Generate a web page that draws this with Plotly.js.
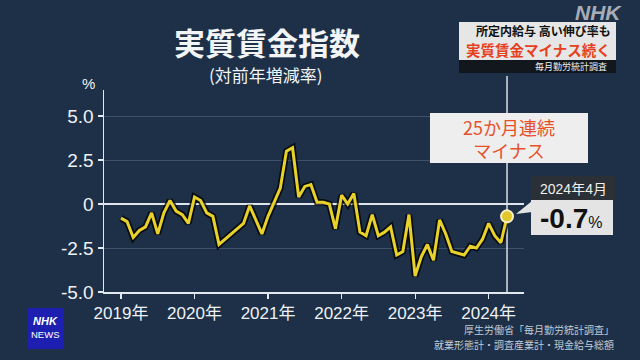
<!DOCTYPE html>
<html><head><meta charset="utf-8">
<script src="https://cdn.plot.ly/plotly-3.0.1.min.js"></script>
<style>html,body{margin:0;padding:0;background:#1d3048;}#chart{width:640px;height:360px;}</style>
</head><body><div id="chart"></div>
<script>
// Real wage index, year-on-year change (%), monthly Jan 2019 - Apr 2024
const v2019 = [-0.8, -1.0, -1.9, -1.5, -1.3, -0.5, -1.7, -0.5, 0.2, -0.4, -0.6, -1.1];
const v2020 = [0.4, 0.2, -0.5, -0.7, -2.3, -2.0, -1.7, -1.4, -1.1, -0.1, -0.9, -1.7];
const v2021 = [-0.7, 0.1, 0.9, 3.0, 3.2, 0.4, 1.0, 1.1, 0.1, 0.1, 0.0, -1.4];
const v2022 = [0.5, 0.0, 0.6, -1.6, -1.8, -0.6, -1.8, -1.6, -1.3, -2.9, -2.7, -0.6];
const v2023 = [-4.1, -3.0, -2.3, -3.2, -0.9, -1.7, -2.7, -2.8, -2.9, -2.4, -2.5, -2.0];
const v2024 = [-1.1, -1.8, -2.2, -0.7];
const yearTickLabels = ['2019年', '2020年', '2021年', '2022年', '2023年', '2024年'];
const yTickVals = [5, 2.5, 0, -2.5, -5];
const yTickText = ['5.0', '2.5', '0', '-2.5', '-5.0'];
const lastLabel = '2024年4月';
const lastValueText = '-0.7';

const values = [].concat(v2019, v2020, v2021, v2022, v2023, v2024);
const xIdx = values.map((_, i) => i); // months since Jan 2019
const tickVals = yearTickLabels.map((_, i) => i * 12);
const lastI = values.length - 1;

// plot geometry (pixels)
const W = 640, H = 360, L = 104, R = 524, T = 90, B = 292;
const xRange = [-2.77, 65.77];
const yRange = [-5, 6.48];
const px = x => (x - L) / (R - L);
const py = y => (B - y) / (B - T);
const CJK = '"Noto Sans CJK JP", sans-serif';
const LAT = '"Liberation Sans", "Noto Sans CJK JP", sans-serif';

const traces = [
  {x: xIdx, y: values, type: 'scatter', mode: 'lines',
   line: {color: 'rgba(0,0,0,0.75)', width: 6.5}, hoverinfo: 'skip'},
  {x: xIdx, y: values, type: 'scatter', mode: 'lines',
   line: {color: '#e8d12a', width: 3}, hoverinfo: 'skip'},
  {x: [xIdx[lastI]], y: [values[lastI]], type: 'scatter', mode: 'markers',
   marker: {color: '#e2c62a', size: 12, line: {color: '#f6efc4', width: 2}}, hoverinfo: 'skip'}
];

const vlineX = (lastI - xRange[0]) / (xRange[1] - xRange[0]);

const shapes = [
  {type: 'line', xref: 'paper', yref: 'paper', x0: vlineX, x1: vlineX, y0: 0, y1: py(76),
   line: {color: '#d9dfe6', width: 1.5}, layer: 'below'},
  // header box
  {type: 'rect', xref: 'paper', yref: 'paper', x0: px(459), x1: px(616), y0: py(60), y1: py(22),
   fillcolor: '#e6e6e6', line: {width: 0}, layer: 'above'},
  {type: 'rect', xref: 'paper', yref: 'paper', x0: px(459), x1: px(616), y0: py(73), y1: py(60),
   fillcolor: '#12171d', line: {width: 0}, layer: 'above'},
  // 25 months box
  {type: 'rect', xref: 'paper', yref: 'paper', x0: px(430), x1: px(588), y0: py(163), y1: py(113),
   fillcolor: '#eeeeee', line: {width: 0}, layer: 'above'},
  // callout
  {type: 'rect', xref: 'paper', yref: 'paper', x0: px(531), x1: px(615), y0: py(200), y1: py(176),
   fillcolor: '#2b3036', line: {width: 0}, layer: 'above'},
  {type: 'rect', xref: 'paper', yref: 'paper', x0: px(531), x1: px(613), y0: py(235), y1: py(200),
   fillcolor: '#e4e4e4', line: {width: 0}, layer: 'above'},
  {type: 'path', xref: 'paper', yref: 'paper',
   path: `M ${px(532)} ${py(201)} L ${px(516)} ${py(214)} L ${px(532)} ${py(212)} Z`,
   fillcolor: '#e4e4e4', line: {width: 0}, layer: 'above'},
  // NHK NEWS logo
  {type: 'rect', xref: 'paper', yref: 'paper', x0: px(28), x1: px(64), y0: py(349), y1: py(308),
   fillcolor: '#1c1fb0', line: {width: 0}, layer: 'above'}
];

const ann = (x, y, text, size, color, extra) => Object.assign({
  xref: 'paper', yref: 'paper', x: px(x), y: py(y), text: text, showarrow: false,
  xanchor: 'center', yanchor: 'middle', borderpad: 0,
  font: {family: CJK, size: size, color: color}
}, extra || {});

const annotations = [
  ann(267, 41, '<b>実質賃金指数</b>', 31, '#f2f4f6'),
  ann(266, 74.5, '(対前年増減率)', 17, '#f2f4f6'),
  ann(88, 83, '%', 15, '#eef2f6', {font: {family: LAT, size: 15, color: '#eef2f6'}}),
  ann(612, 31, '<b>所定内給与 高い伸び率も</b>', 12, '#111111', {xanchor: 'right'}),
  ann(612, 49.5, '<b>実質賃金マイナス続く</b>', 14.5, '#e6401f', {xanchor: 'right'}),
  ann(608, 67, '毎月勤労統計調査', 9, '#f0f0f0', {xanchor: 'right'}),
  ann(598, 12, '<b><i>NHK</i></b>', 21, 'rgba(205,208,214,0.8)', {font: {family: LAT, size: 21, color: 'rgba(205,208,214,0.8)'}}),
  ann(509, 138.5, '25か月連続<br>マイナス', 18, '#e8502a'),
  ann(573, 188.5, lastLabel, 14, '#f0f0f0', {font: {family: LAT, size: 14, color: '#f0f0f0'}}),
  ann(571, 218.5, '<b>' + lastValueText + '</b><span style="font-size:16px">%</span>', 28, '#111111',
      {font: {family: LAT, size: 28, color: '#111111'}}),
  ann(46, 321, '<b><i>NHK</i></b>', 11, '#ffffff', {font: {family: LAT, size: 11, color: '#ffffff'}}),
  ann(46, 334, 'NEWS', 9.5, '#ffffff', {font: {family: LAT, size: 9.5, color: '#ffffff'}}),
  ann(615, 329, '厚生労働省「毎月勤労統計調査」', 10, '#c3cbd4', {xanchor: 'right'}),
  ann(615, 344, '就業形態計・調査産業計・現金給与総額', 10, '#c3cbd4', {xanchor: 'right'})
];

const layout = {
  width: W, height: H,
  margin: {l: L, r: W - R, t: T, b: H - B, pad: 0},
  paper_bgcolor: '#1d3048', plot_bgcolor: 'rgba(0,0,0,0)',
  showlegend: false,
  xaxis: {range: xRange, tickmode: 'array', tickvals: tickVals, ticktext: yearTickLabels,
    showgrid: false, zeroline: false, showline: true, linecolor: '#e3e8ee', linewidth: 1.5,
    ticks: 'outside', ticklen: 5, tickcolor: '#e3e8ee', tickwidth: 1.2,
    tickfont: {family: LAT, size: 17, color: '#eef2f6'}, fixedrange: true},
  yaxis: {range: yRange, tickmode: 'array', tickvals: yTickVals, ticktext: yTickText,
    showgrid: true, gridcolor: 'rgba(190,205,225,0.22)', gridwidth: 1,
    zeroline: true, zerolinecolor: '#dfe5ec', zerolinewidth: 2,
    showline: true, linecolor: '#e3e8ee', linewidth: 1.5,
    ticks: 'outside', ticklen: 5, tickcolor: '#e3e8ee', tickwidth: 1.2,
    tickfont: {family: LAT, size: 19, color: '#eef2f6'}, fixedrange: true},
  shapes: shapes,
  annotations: annotations
};

Plotly.newPlot('chart', traces, layout, {staticPlot: true, displayModeBar: false});
</script>
</body></html>
